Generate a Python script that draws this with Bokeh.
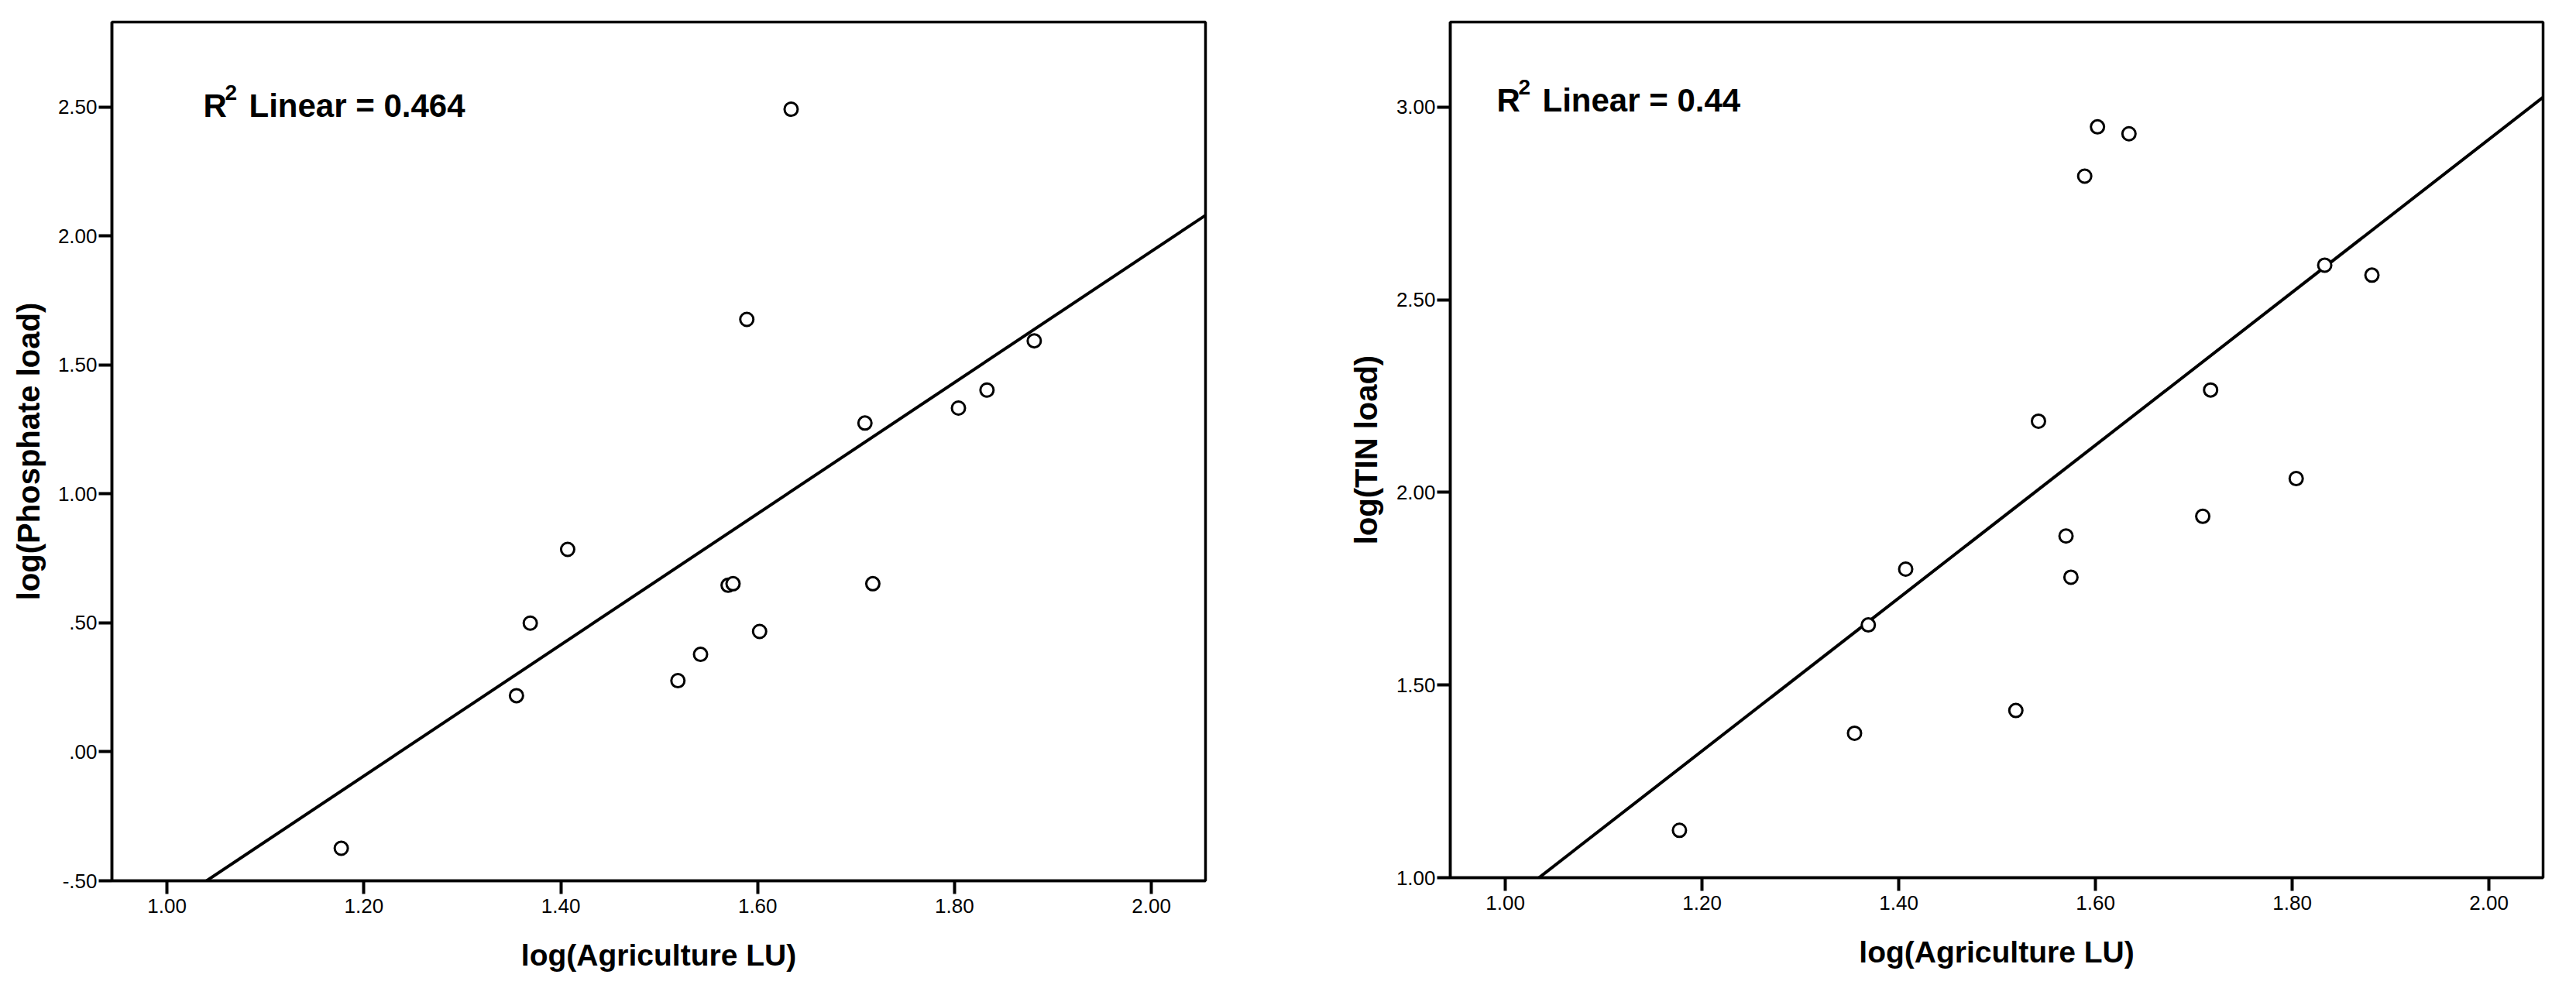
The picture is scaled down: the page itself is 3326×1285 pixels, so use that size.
import numpy as np
from bokeh.plotting import figure
from bokeh.layouts import row
from bokeh.models import Range1d, FixedTicker, Label
from bokeh.embed import file_html
from bokeh.resources import INLINE

# ---------------- data ----------------
agri_lu = [1.177, 1.355, 1.369, 1.407, 1.519, 1.542, 1.570, 1.575,
           1.589, 1.602, 1.634, 1.709, 1.717, 1.804, 1.833, 1.881]
phosphate = [-0.374, 0.218, 0.499, 0.785, 0.276, 0.378, 0.646, 0.652,
             1.677, 0.467, 2.492, 1.275, 0.652, 1.333, 1.403, 1.594]
tin = [1.123, 1.375, 1.656, 1.801, 1.434, 2.185, 1.887, 1.780,
       2.821, 2.949, 2.931, 1.938, 2.266, 2.036, 2.590, 2.564]

x_ticks = [1.0, 1.2, 1.4, 1.6, 1.8, 2.0]
x_tick_labels = ["1.00", "1.20", "1.40", "1.60", "1.80", "2.00"]
y1_ticks = [-0.5, 0.0, 0.5, 1.0, 1.5, 2.0, 2.5]
y1_tick_labels = ["-.50", ".00", ".50", "1.00", "1.50", "2.00", "2.50"]
y2_ticks = [1.0, 1.5, 2.0, 2.5, 3.0]
y2_tick_labels = ["1.00", "1.50", "2.00", "2.50", "3.00"]

x_range = (0.944, 2.055)
y1_range = (-0.5, 2.83)
y2_range = (1.0, 3.221)

r2_left = "0.464"
r2_right = "0.44"

FONT = "Liberation Sans"


def make_plot(x, y, yr, yticks, ylabels, ylab, r2, frame_w, frame_h,
              bl, br, bt, bb, ylab_standoff, r_x, r_y):
    p = figure(output_backend="svg", toolbar_location=None,
               frame_width=frame_w, frame_height=frame_h,
               min_border_left=bl, min_border_right=br,
               min_border_top=bt, min_border_bottom=bb,
               x_range=Range1d(*x_range), y_range=Range1d(*yr))
    p.grid.visible = False
    p.outline_line_color = "black"
    p.outline_line_width = 3.5
    p.background_fill_color = "white"
    p.border_fill_color = "white"

    for ax in (p.xaxis[0], p.yaxis[0]):
        ax.axis_line_width = 3.5
        ax.axis_line_color = "black"
        ax.major_tick_line_width = 4
        ax.major_tick_line_color = "black"
        ax.major_tick_out = 17
        ax.major_tick_in = 0
        ax.minor_tick_line_color = None
        ax.major_label_text_font = FONT
        ax.major_label_text_font_size = "26px"
        ax.major_label_text_color = "black"
        ax.axis_label_text_font = FONT
        ax.axis_label_text_font_style = "bold"
        ax.axis_label_text_color = "black"

    p.xaxis.ticker = FixedTicker(ticks=x_ticks)
    p.xaxis.major_label_overrides = dict(zip(x_ticks, x_tick_labels))
    p.xaxis.major_label_standoff = 6
    p.xaxis.axis_label = "log(Agriculture LU)"
    p.xaxis.axis_label_standoff = 30
    p.xaxis.axis_label_text_font_size = "39px"

    p.yaxis.ticker = FixedTicker(ticks=yticks)
    p.yaxis.major_label_overrides = dict(zip(yticks, ylabels))
    p.yaxis.major_label_standoff = 2
    p.yaxis.axis_label = ylab
    p.yaxis.axis_label_standoff = ylab_standoff
    p.yaxis.axis_label_text_font_size = "40px"

    # regression line (least squares fit of the plotted points)
    slope, intercept = np.polyfit(x, y, 1)
    xs = np.array(x_range)
    p.line(xs, slope * xs + intercept, line_color="black", line_width=4)

    # points
    p.scatter(x, y, marker="circle", size=17, fill_color="white",
              line_color="black", line_width=3)

    # R^2 annotation
    p.add_layout(Label(x=r_x, y=r_y, x_units="screen", y_units="screen",
                       text="R", text_font=FONT, text_font_style="bold",
                       text_font_size="42px", text_color="black",
                       text_baseline="alphabetic", text_align="left"))
    p.add_layout(Label(x=r_x + 28, y=r_y + 17, x_units="screen", y_units="screen",
                       text="2", text_font=FONT, text_font_style="bold",
                       text_font_size="28px", text_color="black",
                       text_baseline="alphabetic", text_align="left"))
    p.add_layout(Label(x=r_x + 59, y=r_y, x_units="screen", y_units="screen",
                       text="Linear = " + r2, text_font=FONT, text_font_style="bold",
                       text_font_size="42px", text_color="black",
                       text_baseline="alphabetic", text_align="left"))
    return p


# left: frame x 152..1564, y 36..1145 ; page offset 8
p1 = make_plot(agri_lu, phosphate, y1_range, y1_ticks, y1_tick_labels,
               "log(Phosphate load)", r2_left, 1412, 1109, 144, 99, 28, 132,
               13, 270 - 152, 1145 - 144)
# right: frame x 1880..3291, y 36..1141
p2 = make_plot(agri_lu, tin, y2_range, y2_ticks, y2_tick_labels,
               "log(TIN load)", r2_right, 1411, 1105, 217, 27, 28, 136,
               14, 1940 - 1880, 1141 - 137)

layout = row(p1, p2)
open("out.html", "w").write(file_html(layout, INLINE))
